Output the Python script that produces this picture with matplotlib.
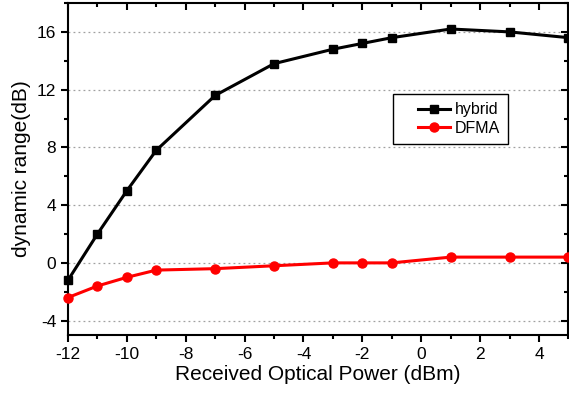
import numpy as np
import matplotlib
matplotlib.use("Agg")
import matplotlib.pyplot as plt
from matplotlib.ticker import MultipleLocator
from matplotlib.legend_handler import HandlerLine2D

plt.rcParams['font.family'] = ['Liberation Sans', 'DejaVu Sans']
plt.rcParams['axes.unicode_minus'] = False

# received optical power (dBm)
power = [-12, -11, -10, -9, -7, -5, -3, -2, -1, 1, 3, 5]
# dynamic range (dB)
hybrid = [-1.2, 2.0, 5.0, 7.8, 11.6, 13.8, 14.8, 15.2, 15.6, 16.2, 16.0, 15.6]
dfma = [-2.4, -1.6, -1.0, -0.5, -0.4, -0.2, 0.0, 0.0, 0.0, 0.4, 0.4, 0.4]


class ShiftedLine(HandlerLine2D):
    # leave empty room on the left of the legend sample line
    def create_artists(self, legend, orig_handle, xdescent, ydescent, width, height, fontsize, trans):
        pad = 17 * 72 / 100
        return super().create_artists(legend, orig_handle, xdescent - pad, ydescent,
                                      width - pad, height, fontsize, trans)


fig = plt.figure(figsize=(5.69, 3.97), dpi=100)
ax = fig.add_axes([0.1195, 0.156, 0.8795, 0.8364])

l1, = ax.plot(power, hybrid, color='black', lw=2.2, marker='s', ms=6, label='hybrid', clip_on=False, zorder=3)
l2, = ax.plot(power, dfma, color='red', lw=2.2, marker='o', ms=6.5, label='DFMA', clip_on=False, zorder=3)

ax.set_xlim(-12, 5)
ax.set_ylim(-5, 18)
ax.xaxis.set_major_locator(MultipleLocator(2))
ax.xaxis.set_minor_locator(MultipleLocator(1))
ax.yaxis.set_major_locator(MultipleLocator(4))
ax.yaxis.set_minor_locator(MultipleLocator(2))

ax.grid(axis='y', which='major', color='#a0a0a0', ls=(0, (1.5, 2.5)), lw=0.9)
ax.set_axisbelow(True)

for s in ax.spines.values():
    s.set_linewidth(1.5)

ax.tick_params(which='both', direction='out', width=1.5, labelsize=12.5,
               top=True, right=True, labeltop=False, labelright=False)
ax.tick_params(which='major', length=5)
ax.tick_params(which='minor', length=3)
# top / right ticks point into the plot
for t in ax.xaxis.get_major_ticks() + ax.xaxis.get_minor_ticks():
    t.tick2line.set_marker(3)
for t in ax.yaxis.get_major_ticks() + ax.yaxis.get_minor_ticks():
    t.tick2line.set_marker(0)

ax.set_xlabel('Received Optical Power (dBm)', fontsize=15, labelpad=2)
ax.set_ylabel('dynamic range(dB)', fontsize=15, labelpad=4)

leg = ax.legend(loc='upper left', bbox_to_anchor=(0.649, 0.725), fontsize=11.5,
                frameon=True, fancybox=False, edgecolor='black', framealpha=1,
                handlelength=3.1, borderpad=0.5, labelspacing=0.22, handletextpad=0.3,
                borderaxespad=0, handler_map={l1: ShiftedLine(), l2: ShiftedLine()})
leg.get_frame().set_linewidth(1.0)

fig.savefig('out.png', dpi=100)
